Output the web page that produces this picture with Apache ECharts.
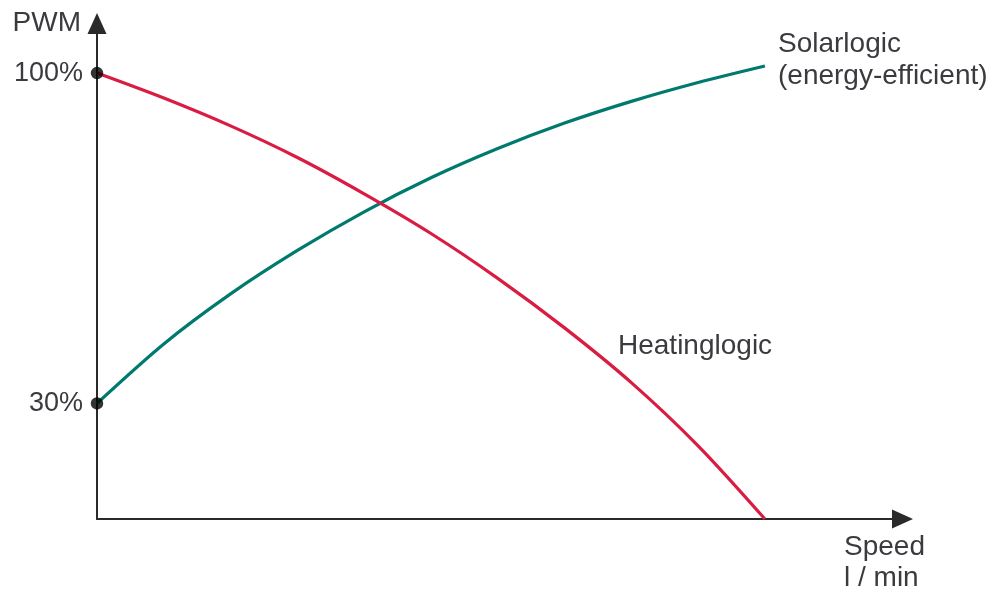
<!DOCTYPE html>
<html>
<head>
<meta charset="utf-8">
<script src="https://cdn.jsdelivr.net/npm/echarts@6/dist/echarts.min.js"></script>
<style>html,body{margin:0;padding:0;background:#fff}#c{width:1003px;height:591px}</style>
</head>
<body>
<div id="c"></div>
<script>
// Speed (relative units, 100 = end of curves)
const speed = [0, 10, 20, 30, 40, 50, 60, 70, 80, 90, 100];
const heatingPWM = [100, 94.7, 88.8, 82.1, 74.4, 66.0, 56.5, 46.0, 34.4, 21.0, 5.5];
const solarPWM = [30, 42.6, 53.2, 62.4, 70.6, 77.8, 84.0, 89.4, 94.0, 98.0, 101.5];
const yTicks = [100, 30];
const startPoints = [[0, 100], [0, 30]];
const labels = { y: 'PWM', x1: 'Speed', x2: 'l / min', solar1: 'Solarlogic', solar2: '(energy-efficient)', heating: 'Heatinglogic' };

const FONT = 'Liberation Sans, Arial, sans-serif';
const TXT = '#3a3a3f';
const FS = 28;
const chart = echarts.init(document.getElementById('c'), null, { renderer: 'canvas' });
const txt = (text, x, y, align) => ({ type: 'text', x, y, style: { text, font: FS + 'px ' + FONT, fill: TXT, align: align || 'left', verticalAlign: 'middle' } });
chart.setOption({
  animation: false,
  backgroundColor: '#fff',
  grid: { left: 97, right: 100.5, top: 23.5, bottom: 72 },
  xAxis: {
    type: 'value', min: 0, max: 120.6,
    axisLine: { onZero: false, lineStyle: { color: '#2a2a2a', width: 2 }, symbol: ['none', 'triangle'], symbolSize: [19, 21] },
    axisTick: { show: false }, axisLabel: { show: false }, splitLine: { show: false }
  },
  yAxis: {
    type: 'value', min: 5.5, max: 110.5,
    axisLine: { show: true, onZero: false, lineStyle: { color: '#2a2a2a', width: 2 }, symbol: ['none', 'triangle'], symbolSize: [19, 21] },
    axisTick: { show: false },
    axisLabel: { show: true, customValues: yTicks, formatter: '{value}%', fontSize: 27, fontFamily: FONT, color: TXT, margin: 14 },
    splitLine: { show: false }
  },
  series: [
    { type: 'line', data: speed.map((s, i) => [s, heatingPWM[i]]), smooth: 0.3, showSymbol: false, lineStyle: { color: '#d91c42', width: 3.2 }, z: 3 },
    { type: 'line', data: speed.map((s, i) => [s, solarPWM[i]]), smooth: 0.3, showSymbol: false, lineStyle: { color: '#007a6e', width: 3.2 }, z: 2 },
    { type: 'scatter', data: startPoints, symbolSize: 12.5, itemStyle: { color: '#000' }, z: 5 }
  ],
  graphic: [
    txt(labels.y, 81, 23, 'right'),
    txt(labels.x1, 844, 547),
    txt(labels.x2, 844, 578.5),
    txt(labels.solar1, 778, 44),
    txt(labels.solar2, 778, 76.5),
    txt(labels.heating, 618, 346)
  ]
});
</script>
</body>
</html>
